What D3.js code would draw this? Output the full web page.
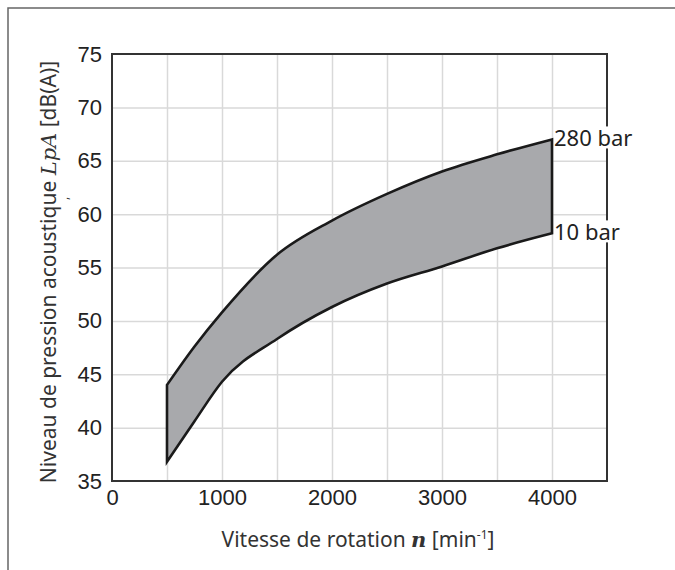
<!DOCTYPE html>
<html lang="fr">
<head>
<meta charset="utf-8">
<title>LpA</title>
<script src="https://cdn.jsdelivr.net/npm/d3@7"></script>
<style>
  body { margin: 0; background: #fff; }
  .tick text { font-family: "Liberation Sans", Arial, sans-serif; font-size: 22px; fill: #222; }
  .grid line { stroke: #d9d9d9; stroke-width: 1.5; }
  .grid path { stroke-width: 0; }
  .ttl { font-family: "Noto Sans", sans-serif; font-size: 21px; fill: #333; }
</style>
</head>
<body>
<script>
// rotation speed [min-1]
var speeds = [500, 750, 1000, 1500, 2000, 2500, 3000, 3500, 4000];
// sound pressure level at 280 bar / 10 bar [dB(A)]
var p280 = [44.0, 47.6, 50.8, 56.2, 59.4, 61.9, 64.0, 65.6, 67.0];
var p10  = [36.8, 40.6, 44.3, 48.3, 51.3, 53.5, 55.1, 56.8, 58.2];
var xTicks = [0, 1000, 2000, 3000, 4000];
var yTicks = [35, 40, 45, 50, 55, 60, 65, 70, 75];
var curveLabels = ["280 bar", "10 bar"];

var W = 675, H = 570;
var svg = d3.select("body").append("svg").attr("width", W).attr("height", H);

// outer frame (only left + top visible)
svg.append("path").attr("d", "M8," + H + "V8H" + W)
   .attr("fill", "none").attr("stroke", "#666").attr("stroke-width", 1.5);

var x = d3.scaleLinear().domain([0, 4500]).range([112, 607]);
var y = d3.scaleLinear().domain([35, 75]).range([481, 54]);

// grid
svg.append("g").attr("class", "grid")
   .attr("transform", "translate(0," + y(35) + ")")
   .call(d3.axisBottom(x).tickValues(d3.range(500, 4500, 500)).tickSize(-(y(35) - y(75))).tickFormat(""));
svg.append("g").attr("class", "grid")
   .attr("transform", "translate(" + x(0) + ",0)")
   .call(d3.axisLeft(y).tickValues(d3.range(40, 75, 5)).tickSize(-(x(4500) - x(0))).tickFormat(""));

// band
var pts = speeds.map(function(s, i) { return {s: s, hi: p280[i], lo: p10[i]}; });
var area = d3.area()
   .x(function(d) { return x(d.s); })
   .y0(function(d) { return y(d.lo); })
   .y1(function(d) { return y(d.hi); })
   .curve(d3.curveMonotoneX);
svg.append("path").datum(pts).attr("d", area)
   .attr("fill", "#a8a9ac").attr("stroke", "#1a1a1a").attr("stroke-width", 2.6)
   .attr("stroke-linejoin", "miter");

// plot frame
svg.append("rect").attr("x", x(0)).attr("y", y(75))
   .attr("width", x(4500) - x(0)).attr("height", y(35) - y(75))
   .attr("fill", "none").attr("stroke", "#333").attr("stroke-width", 2);

// axes labels
var xa = svg.append("g").attr("transform", "translate(0," + y(35) + ")")
   .call(d3.axisBottom(x).tickValues(xTicks).tickSize(0).tickPadding(8).tickFormat(d3.format("d")));
xa.select(".domain").remove();
var ya = svg.append("g").attr("transform", "translate(" + x(0) + ",0)")
   .call(d3.axisLeft(y).tickValues(yTicks).tickSize(0).tickPadding(10));
ya.select(".domain").remove();

// curve end labels
var ends = [p280[p280.length - 1], p10[p10.length - 1]];
curveLabels.forEach(function(t, i) {
  var g = svg.append("g").attr("transform", "translate(" + (x(4000) + 2) + "," + y(ends[i]) + ")");
  var txt = g.append("text").attr("class", "ttl").style("font-size", "22px").style("fill", "#222")
     .attr("dy", "0.32em").text(t);
  var bb = txt.node().getBBox();
  g.insert("rect", "text").attr("x", bb.x).attr("y", bb.y + 4)
     .attr("width", bb.width).attr("height", bb.height - 8).attr("fill", "#fff");
});

// x title
var xt = svg.append("text").attr("class", "ttl").attr("x", 358).attr("y", 547)
   .attr("text-anchor", "middle");
xt.append("tspan").text("Vitesse de rotation ");
xt.append("tspan").style("font-family", "'DejaVu Serif', serif").style("font-style", "italic")
   .style("font-weight", "bold").text("n");
xt.append("tspan").text(" [min");
xt.append("tspan").attr("dy", -8).style("font-size", "12px").text("-1");
xt.append("tspan").attr("dy", 8).text("]");

// y title
var yt = svg.append("text").attr("class", "ttl")
   .attr("transform", "translate(56,272) rotate(-90)").attr("text-anchor", "middle");
yt.append("tspan").text("Niveau de pression acoustique ");
yt.append("tspan").style("font-family", "'DejaVu Serif', serif").style("font-style", "italic").text("LpA");
yt.append("tspan").text(" [dB(A)]");
svg.append("text").attr("class", "ttl").style("font-size", "12px")
   .attr("transform", "translate(68,200) rotate(-90)").text(",");
</script>
</body>
</html>
